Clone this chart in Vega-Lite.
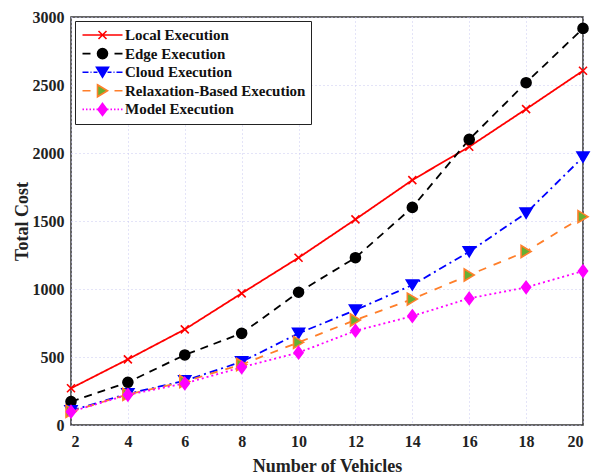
{
  "$schema": "https://vega.github.io/schema/vega-lite/v6.json",
  "autosize": {"type": "none"},
  "width": 512,
  "height": 408,
  "padding": {"left": 71, "top": 17, "right": 13, "bottom": 49},
  "background": "white",
  "config": {
    "font": "Liberation Serif",
    "view": {"stroke": "#333333", "strokeWidth": 1.5},
    "axis": {
      "labelFont": "Liberation Serif", "labelFontWeight": "bold", "labelFontSize": 16, "labelColor": "#222222",
      "titleFont": "Liberation Serif", "titleFontWeight": "bold", "titleFontSize": 18, "titleColor": "#222222",
      "grid": true, "gridColor": "#c8c8f0", "gridDash": [1, 3], "gridWidth": 1,
      "domain": false, "ticks": false
    }
  },
  "data": {"values": [
    {"series": "Local Execution", "x": 2, "y": 270}, {"series": "Local Execution", "x": 4, "y": 483}, {"series": "Local Execution", "x": 6, "y": 703}, {"series": "Local Execution", "x": 8, "y": 968}, {"series": "Local Execution", "x": 10, "y": 1230}, {"series": "Local Execution", "x": 12, "y": 1512}, {"series": "Local Execution", "x": 14, "y": 1801}, {"series": "Local Execution", "x": 16, "y": 2046}, {"series": "Local Execution", "x": 18, "y": 2323}, {"series": "Local Execution", "x": 20, "y": 2605},
    {"series": "Edge Execution", "x": 2, "y": 172}, {"series": "Edge Execution", "x": 4, "y": 314}, {"series": "Edge Execution", "x": 6, "y": 515}, {"series": "Edge Execution", "x": 8, "y": 674}, {"series": "Edge Execution", "x": 10, "y": 976}, {"series": "Edge Execution", "x": 12, "y": 1230}, {"series": "Edge Execution", "x": 14, "y": 1600}, {"series": "Edge Execution", "x": 16, "y": 2100}, {"series": "Edge Execution", "x": 18, "y": 2517}, {"series": "Edge Execution", "x": 20, "y": 2916},
    {"series": "Cloud Execution", "x": 2, "y": 105}, {"series": "Cloud Execution", "x": 4, "y": 230}, {"series": "Cloud Execution", "x": 6, "y": 325}, {"series": "Cloud Execution", "x": 8, "y": 465}, {"series": "Cloud Execution", "x": 10, "y": 674}, {"series": "Cloud Execution", "x": 12, "y": 845}, {"series": "Cloud Execution", "x": 14, "y": 1029}, {"series": "Cloud Execution", "x": 16, "y": 1274}, {"series": "Cloud Execution", "x": 18, "y": 1558}, {"series": "Cloud Execution", "x": 20, "y": 1970},
    {"series": "Relaxation-Based Execution", "x": 2, "y": 100}, {"series": "Relaxation-Based Execution", "x": 4, "y": 225}, {"series": "Relaxation-Based Execution", "x": 6, "y": 320}, {"series": "Relaxation-Based Execution", "x": 8, "y": 445}, {"series": "Relaxation-Based Execution", "x": 10, "y": 608}, {"series": "Relaxation-Based Execution", "x": 12, "y": 772}, {"series": "Relaxation-Based Execution", "x": 14, "y": 926}, {"series": "Relaxation-Based Execution", "x": 16, "y": 1103}, {"series": "Relaxation-Based Execution", "x": 18, "y": 1276}, {"series": "Relaxation-Based Execution", "x": 20, "y": 1532},
    {"series": "Model Execution", "x": 2, "y": 98}, {"series": "Model Execution", "x": 4, "y": 222}, {"series": "Model Execution", "x": 6, "y": 306}, {"series": "Model Execution", "x": 8, "y": 424}, {"series": "Model Execution", "x": 10, "y": 532}, {"series": "Model Execution", "x": 12, "y": 693}, {"series": "Model Execution", "x": 14, "y": 801}, {"series": "Model Execution", "x": 16, "y": 931}, {"series": "Model Execution", "x": 18, "y": 1012}, {"series": "Model Execution", "x": 20, "y": 1132}
  ]},
  "resolve": {"scale": {"shape": "independent", "fill": "independent", "stroke": "independent"}, "legend": {"shape": "independent", "fill": "independent", "stroke": "independent"}},
  "layer": [
    {
      "mark": {"type": "line", "strokeWidth": 1.8},
      "encoding": {
        "x": {"field": "x", "type": "quantitative", "scale": {"domain": [2, 20], "nice": false}, "axis": {"title": "Number of Vehicles", "values": [2,4,6,8,10,12,14,16,18,20], "labelPadding": 8, "titlePadding": 8}},
        "y": {"field": "y", "type": "quantitative", "scale": {"domain": [0, 3000], "nice": false}, "axis": {"title": "Total Cost", "values": [0,500,1000,1500,2000,2500,3000], "format": "d", "labelPadding": 7, "titlePadding": 1}},
        "color": {
          "field": "series", "type": "nominal",
          "scale": {"domain": ["Local Execution", "Edge Execution", "Cloud Execution", "Relaxation-Based Execution", "Model Execution"], "range": ["#ff0000", "#000000", "#0000ff", "#ff7f2a", "#ff00ff"]},
          "legend": null
        },
        "strokeDash": {
          "field": "series", "type": "nominal",
          "scale": {"domain": ["Local Execution", "Edge Execution", "Cloud Execution", "Relaxation-Based Execution", "Model Execution"], "range": [[1, 0], [8, 6], [8, 4, 2, 4], [8, 8], [2, 3]]},
          "legend": null
        }
      }
    },
    {
      "mark": {"type": "point", "filled": false, "size": 100, "strokeWidth": 1.6, "opacity": 1},
      "encoding": {
        "x": {"field": "x", "type": "quantitative"},
        "y": {"field": "y", "type": "quantitative"},
        "shape": {
          "field": "series", "type": "nominal",
          "scale": {"domain": ["Local Execution", "Edge Execution", "Cloud Execution", "Relaxation-Based Execution", "Model Execution"], "range": ["M-0.8,-0.8L0.8,0.8M-0.8,0.8L0.8,-0.8", "circle", "M-1.2,-1H1.2L0,1Z", "M-1,-1.2L1,0L-1,1.2Z", "M0,-1.2L0.9,0L0,1.2L-0.9,0Z"]},
          "legend": null
        },
        "stroke": {
          "field": "series", "type": "nominal",
          "scale": {"domain": ["Local Execution", "Edge Execution", "Cloud Execution", "Relaxation-Based Execution", "Model Execution"], "range": ["#ff0000", "#000000", "#0000ff", "#ff7f2a", "#ff00ff"]},
          "legend": null
        },
        "fill": {
          "field": "series", "type": "nominal",
          "scale": {"domain": ["Local Execution", "Edge Execution", "Cloud Execution", "Relaxation-Based Execution", "Model Execution"], "range": ["transparent", "#000000", "#0000ff", "#66b032", "#ff00ff"]},
          "legend": null
        }
      }
    },
    {
      "mark": {"type": "point", "filled": false, "size": 100, "strokeWidth": 1.6, "opacity": 0},
      "encoding": {
        "x": {"field": "x", "type": "quantitative"},
        "y": {"field": "y", "type": "quantitative"},
        "shape": {
          "field": "series", "type": "nominal",
          "scale": {"domain": ["Local Execution", "Edge Execution", "Cloud Execution", "Relaxation-Based Execution", "Model Execution"], "range": [
            "M-1,0H7M2.2,-0.8L3.8,0.8M2.2,0.8L3.8,-0.8",
            "M-1,0H0.6M5.4,0H7M2,0A1,1 0 1,0 4,0A1,1 0 1,0 2,0Z",
            "M-1,0H0.2M0.6,0H0.8M1.2,0H2M4,0H4.8M5.2,0H5.4M5.8,0H7M1.8,-1H4.2L3,1Z",
            "M-1,0H0.6M5.4,0H7M2,-1.2L4,0L2,1.2Z",
            "M-1,0H-0.7M-0.3,0H0M0.4,0H0.7M1.1,0H1.4M1.8,0H2.1M3.9,0H4.2M4.6,0H4.9M5.3,0H5.6M6,0H6.3M6.7,0H7M3,-1.2L3.9,0L3,1.2L2.1,0Z"
          ]},
          "legend": {
            "title": null, "orient": "top-left", "offset": 4,
            "strokeColor": "#222222", "fillColor": "white", "padding": 5,
            "labelFont": "Liberation Serif", "labelFontWeight": "bold", "labelFontSize": 15, "labelColor": "#111111", "labelLimit": 400,
            "symbolSize": 100, "symbolStrokeWidth": 1.6, "symbolOpacity": 1, "labelOffset": 30, "rowPadding": 0.6, "clipHeight": 18
          }
        },
        "stroke": {
          "field": "series", "type": "nominal",
          "scale": {"domain": ["Local Execution", "Edge Execution", "Cloud Execution", "Relaxation-Based Execution", "Model Execution"], "range": ["#ff0000", "#000000", "#0000ff", "#ff7f2a", "#ff00ff"]}
        },
        "fill": {
          "field": "series", "type": "nominal",
          "scale": {"domain": ["Local Execution", "Edge Execution", "Cloud Execution", "Relaxation-Based Execution", "Model Execution"], "range": ["transparent", "#000000", "#0000ff", "#66b032", "#ff00ff"]}
        }
      }
    }
  ]
}
